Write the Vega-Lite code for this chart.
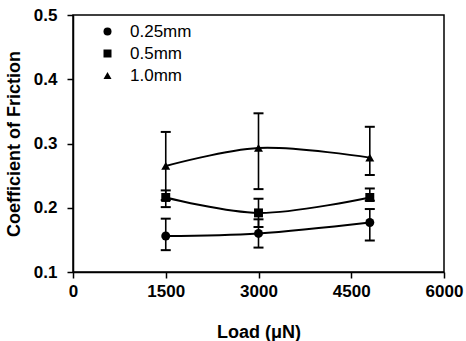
{
  "$schema": "https://vega.github.io/schema/vega-lite/v6.json",
  "width": 371,
  "height": 257,
  "autosize": {"type": "none"},
  "padding": {"left": 73, "top": 15, "right": 22, "bottom": 69},
  "background": "white",
  "config": {
    "font": "Liberation Sans",
    "view": {"stroke": "black", "strokeWidth": 1.5},
    "axis": {
      "grid": false,
      "domainColor": "black",
      "domainWidth": 1.5,
      "tickColor": "black",
      "tickWidth": 1.5,
      "tickSize": 6,
      "labelFont": "Liberation Sans",
      "labelFontWeight": "bold",
      "labelFontSize": 17,
      "labelColor": "black",
      "titleFont": "Liberation Sans",
      "titleFontWeight": "bold",
      "titleFontSize": 18,
      "titleColor": "black"
    }
  },
  "data": {
    "values": [
      {"size": "0.25mm", "load": 1500, "cof": 0.156, "lo": 0.134, "hi": 0.183},
      {"size": "0.25mm", "load": 3000, "cof": 0.160, "lo": 0.138, "hi": 0.182},
      {"size": "0.25mm", "load": 4800, "cof": 0.177, "lo": 0.149, "hi": 0.198},
      {"size": "0.5mm", "load": 1500, "cof": 0.216, "lo": 0.201, "hi": 0.227},
      {"size": "0.5mm", "load": 3000, "cof": 0.192, "lo": 0.170, "hi": 0.214},
      {"size": "0.5mm", "load": 4800, "cof": 0.216, "lo": 0.211, "hi": 0.230},
      {"size": "1.0mm", "load": 1500, "cof": 0.265, "lo": 0.212, "hi": 0.318},
      {"size": "1.0mm", "load": 3000, "cof": 0.293, "lo": 0.229, "hi": 0.347},
      {"size": "1.0mm", "load": 4800, "cof": 0.278, "lo": 0.251, "hi": 0.326}
    ]
  },
  "encoding": {
    "x": {
      "field": "load",
      "type": "quantitative",
      "scale": {"domain": [0, 6000], "nice": false},
      "axis": {
        "title": "Load (μN)",
        "values": [0, 1500, 3000, 4500, 6000],
        "format": "d",
        "labelPadding": 5,
        "titlePadding": 24,
        "labelFlush": false
      }
    }
  },
  "layer": [
    {
      "mark": {"type": "rule", "color": "black", "strokeWidth": 1.6},
      "encoding": {
        "y": {"field": "lo", "type": "quantitative", "scale": {"domain": [0.1, 0.5], "nice": false, "zero": false},
          "axis": {"title": "Coefficient of Friction", "values": [0.1, 0.2, 0.3, 0.4, 0.5], "format": ".1f", "labelPadding": 10, "titlePadding": 10, "labelFlush": false}},
        "y2": {"field": "hi"}
      }
    },
    {
      "mark": {"type": "tick", "orient": "horizontal", "color": "black", "size": 10, "thickness": 2, "opacity": 1},
      "encoding": {"y": {"field": "lo", "type": "quantitative"}}
    },
    {
      "mark": {"type": "tick", "orient": "horizontal", "color": "black", "size": 10, "thickness": 2, "opacity": 1},
      "encoding": {"y": {"field": "hi", "type": "quantitative"}}
    },
    {
      "mark": {"type": "line", "interpolate": "catmull-rom", "color": "black", "strokeWidth": 2},
      "encoding": {
        "y": {"field": "cof", "type": "quantitative"},
        "detail": {"field": "size"}
      }
    },
    {
      "mark": {"type": "point", "filled": true, "color": "black", "size": 80, "opacity": 1},
      "encoding": {
        "y": {"field": "cof", "type": "quantitative"},
        "shape": {
          "field": "size",
          "type": "nominal",
          "scale": {"domain": ["0.25mm", "0.5mm", "1.0mm"], "range": ["circle", "square", "triangle-up"]},
          "legend": {
            "orient": "none",
            "legendX": 26,
            "legendY": 8,
            "title": null,
            "padding": 0,
            "labelFont": "Liberation Sans",
            "labelFontSize": 17,
            "labelColor": "black",
            "labelOffset": 14,
            "rowPadding": 4,
            "symbolSize": 64,
            "symbolFillColor": "black",
            "symbolStrokeColor": "black",
            "symbolOpacity": 1
          }
        }
      }
    }
  ]
}
